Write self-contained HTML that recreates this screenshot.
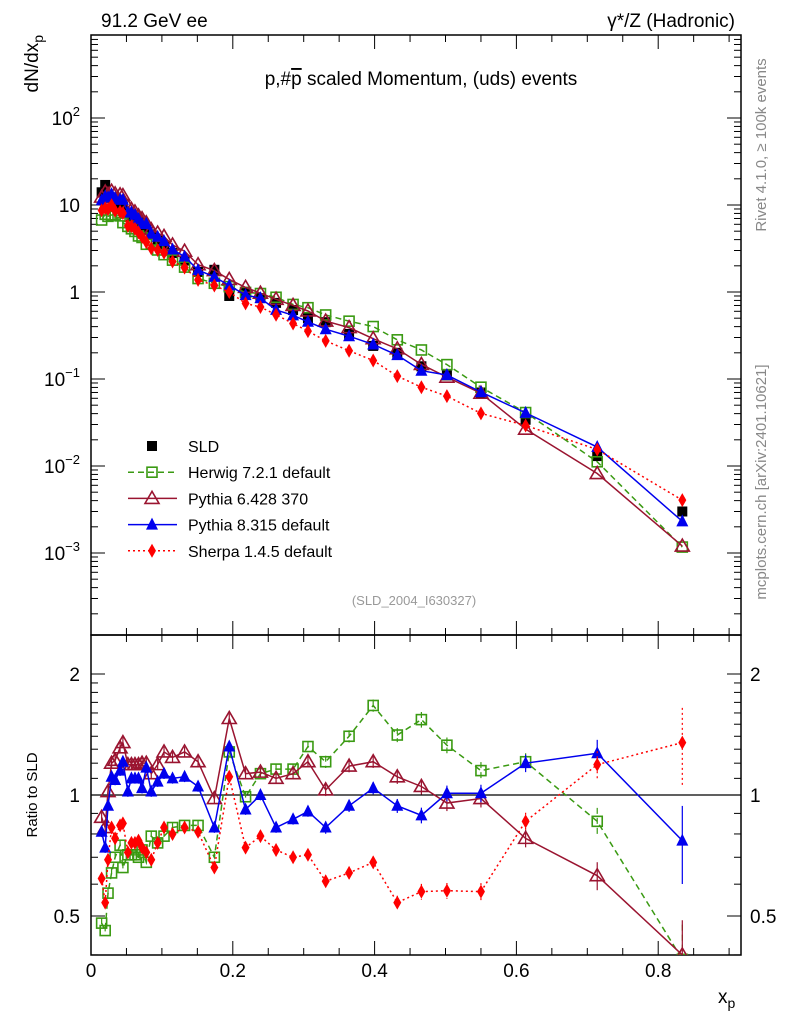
<!DOCTYPE html>
<html><head><meta charset="utf-8"><style>
body{margin:0;background:#fff}
svg{display:block;font-family:"Liberation Sans",sans-serif}
</style></head><body>
<svg id="c" width="786" height="1024" xmlns="http://www.w3.org/2000/svg"><defs><clipPath id="rc"><rect x="91" y="635" width="650" height="320"/></clipPath><clipPath id="mc"><rect x="91" y="35" width="650" height="600"/></clipPath></defs></svg>
<script>
const xs=[.015,.020,.024,.029,.034,.041,.045,.052,.057,.062,.067,.072,.078,.085,.094,.103,.115,.132,.151,.174,.195,.218,.239,.261,.285,.306,.331,.364,.398,.432,.466,.502,.55,.613,.714,.834];
const sld=[14,17,13,12,11,10,9.5,8,7.5,7,6.3,5.8,5.2,4.6,4.0,3.4,2.8,2.3,1.7,1.8,0.9,1.0,0.85,0.75,0.62,0.5,0.45,0.33,0.24,0.2,0.14,0.11,0.07,0.034,0.013,0.003];
const rHerwig=[0.48,0.46,0.57,0.64,0.70,0.75,0.66,0.71,0.71,0.71,0.70,0.73,0.68,0.79,0.76,0.79,0.83,0.84,0.84,0.70,1.28,0.99,1.13,1.16,1.16,1.32,1.21,1.40,1.67,1.41,1.54,1.33,1.15,1.21,0.86,0.39];
const rPy6=[0.88,0.83,1.02,1.2,1.22,1.31,1.35,1.19,1.19,1.19,1.19,1.2,1.2,1.13,1.19,1.28,1.24,1.28,1.21,0.98,1.55,1.13,1.14,1.1,1.13,1.21,1.03,1.18,1.21,1.11,1.05,0.955,0.98,0.78,0.63,0.40];
const rPy8=[0.81,0.74,0.94,1.11,1.09,1.15,1.21,1.02,1.1,1.1,1.1,1.04,1.17,1.02,1.08,1.13,1.1,1.11,1.05,0.83,1.32,0.92,1.0,0.83,0.87,0.91,0.83,0.94,1.04,0.94,0.89,1.01,1.01,1.2,1.27,0.77];
const rSherpa=[0.62,0.54,0.69,0.83,0.78,0.84,0.85,0.72,0.76,0.76,0.77,0.74,0.72,0.69,0.76,0.83,0.8,0.83,0.81,0.66,1.11,0.74,0.79,0.73,0.70,0.71,0.61,0.64,0.68,0.54,0.575,0.578,0.575,0.86,1.19,1.35];
const errRel=[.03,.03,.03,.03,.03,.03,.03,.03,.03,.03,.03,.03,.03,.03,.03,.03,.03,.03,.03,.03,.03,.03,.03,.03,.03,.03,.035,.035,.035,.04,.045,.045,.05,.05,.08,.22];
const yTicksMain=[[2,'10','2'],[1,'10',''],[0,'1',''],[-1,'10','−1'],[-2,'10','−2'],[-3,'10','−3']];
const xTicks=[0,0.2,0.4,0.6,0.8];

const svg=document.getElementById('c');
const NS='http://www.w3.org/2000/svg';
function el(t,a,p){const e=document.createElementNS(NS,t);for(const k in a)e.setAttribute(k,a[k]);(p||svg).appendChild(e);return e;}
const L=91,R=741,T=35,M=635,B=955;
const X=v=>L+709*v;
const Ym=v=>292-87*Math.log10(v);
const Yr=r=>795-121*Math.log2(r);

let f1=el('rect',{x:L,y:T,width:R-L,height:M-T,fill:'none',stroke:'#000','stroke-width':1.5});

let f2=el('rect',{x:L,y:M,width:R-L,height:B-M,fill:'none',stroke:'#000','stroke-width':1.5});


for(let v=0;v<=0.92;v+=0.05){const maj=Math.abs(v/0.2-Math.round(v/0.2))<1e-6;const len=maj?14:7;
 for(const [y0,d] of [[B,-1],[M,-1],[M,1],[T,1]]){el('line',{x1:X(v),x2:X(v),y1:y0,y2:y0+d*len,stroke:'#000'});}}
xTicks.forEach(v=>{const t=el('text',{x:X(v),y:977,'font-size':19,'text-anchor':'middle'});t.textContent=String(v);
 });
for(let d=-4;d<=2;d++)for(let m=1;m<=9;m++){const v=m*Math.pow(10,d);const y=Ym(v);if(y<T||y>M)continue;const len=m==1?14:7;
 el('line',{x1:L,x2:L+len,y1:y,y2:y,stroke:'#000'});el('line',{x1:R,x2:R-len,y1:y,y2:y,stroke:'#000'});}
yTicksMain.forEach(([d,s,e])=>{const t=el('text',{x:80,y:Ym(Math.pow(10,d))+7,'font-size':19,'text-anchor':'end'});
 t.innerHTML=s+(e?'<tspan font-size="13" dy="-9">'+e+'</tspan>':'');
 });
[0.4,0.5,0.6,0.7,0.8,0.9,1,1.1,1.2,1.3,1.4,1.5,1.6,1.7,1.8,1.9,2,2.5].forEach(r=>{const y=Yr(r);if(y<M||y>B)return;const len=(r==0.5||r==1||r==2)?14:7;
 el('line',{x1:L,x2:L+len,y1:y,y2:y,stroke:'#000'});el('line',{x1:R,x2:R-len,y1:y,y2:y,stroke:'#000'});});
[[2,'2'],[1,'1'],[0.5,'0.5']].forEach(([r,s])=>{let t=el('text',{x:80,y:Yr(r)+7,'font-size':19,'text-anchor':'end'});t.textContent=s;
 
 t=el('text',{x:750,y:Yr(r)+7,'font-size':19});t.textContent=s;
 });
el('line',{x1:L,x2:R,y1:Yr(1),y2:Yr(1),stroke:'#000','stroke-width':1.2});

function marker(g,type,x,y,col){
 if(type=='sq')el('rect',{x:x-5,y:y-5,width:10,height:10,fill:'#000'},g);
 else if(type=='osq')el('rect',{x:x-5,y:y-5,width:10,height:10,fill:'none',stroke:col,'stroke-width':1.6},g);
 else if(type=='otri')el('polygon',{points:`${x},${y-7} ${x-7},${y+5} ${x+7},${y+5}`,fill:'none',stroke:col,'stroke-width':1.6},g);
 else if(type=='tri')el('polygon',{points:`${x},${y-7} ${x-6},${y+5} ${x+6},${y+5}`,fill:col},g);
 else if(type=='dia')el('polygon',{points:`${x},${y-7} ${x-4},${y} ${x},${y+7} ${x+4},${y}`,fill:col},g);
}
const series=[
 {n:'herwig',r:rHerwig,c:'#3a9a12',m:'osq',d:'6,4'},
 {n:'pythia6',r:rPy6,c:'#9a1430',m:'otri',d:''},
 {n:'pythia8',r:rPy8,c:'#0000ee',m:'tri',d:''},
 {n:'sherpa',r:rSherpa,c:'#ff0000',m:'dia',d:'2,3'}];
const gs=el('g',{'clip-path':'url(#mc)'});
xs.forEach((x,i)=>marker(gs,'sq',X(x),Ym(sld[i])));
series.forEach(s=>{
 const g=el('g',{'clip-path':'url(#mc)'});
 const pts=xs.map((x,i)=>X(x)+','+Ym(sld[i]*s.r[i])).join(' ');
 el('polyline',{points:pts,fill:'none',stroke:s.c,'stroke-width':1.5,'stroke-dasharray':s.d},g);
 xs.forEach((x,i)=>marker(g,s.m,X(x),Ym(sld[i]*s.r[i]),s.c));
 const g2=el('g',{'clip-path':'url(#rc)'});
 const pts2=xs.map((x,i)=>X(x)+','+Yr(s.r[i])).join(' ');
 el('polyline',{points:pts2,fill:'none',stroke:s.c,'stroke-width':1.5,'stroke-dasharray':s.d},g2);
 xs.forEach((x,i)=>{const r=s.r[i],e=errRel[i];
  el('line',{x1:X(x),x2:X(x),y1:Yr(r*(1+e)),y2:Yr(r*(1-e)),stroke:s.c,'stroke-width':1.2,'stroke-dasharray':s.d},g2);
  marker(g2,s.m,X(x),Yr(r),s.c);});
});
const leg=[['SLD','sq','#000',''],['Herwig 7.2.1 default','osq','#3a9a12','6,4'],['Pythia 6.428 370','otri','#9a1430',''],['Pythia 8.315 default','tri','#0000ee',''],['Sherpa 1.4.5 default','dia','#ff0000','2,3']];
leg.forEach((l,i)=>{const y=446+i*26.2;const g=el('g',{});
 if(i>0)el('line',{x1:128,x2:177,y1:y,y2:y,stroke:l[2],'stroke-width':1.5,'stroke-dasharray':l[3]},g);
 marker(g,l[1],152,y,l[2]);const t=el('text',{x:188,y:y+6,'font-size':16},g);t.textContent=l[0];});
function txt(x,y,s,a,name,extra){const t=el('text',Object.assign({x:x,y:y,'text-anchor':a||'start'},extra||{}));t.textContent=s;return t;}
txt(101,27,'91.2 GeV ee','start','energy-label',{'font-size':19});
txt(735,27,'γ*/Z (Hadronic)','end','process-label',{'font-size':19});
const tt=txt(421,85,'','middle','plot-title',{'font-size':19});tt.innerHTML='p,#<tspan text-decoration="overline">p</tspan> scaled Momentum, (uds) events';
txt(414,605,'(SLD_2004_I630327)','middle','analysis-id',{'font-size':13,fill:'#999'});
const yl=txt(0,0,'','end','y-axis-title',{'font-size':19,transform:'translate(38,35) rotate(-90)'});yl.innerHTML='dN/dx<tspan font-size="14" dy="5">p</tspan>';
txt(0,0,'Ratio to SLD','middle','ratio-axis-title',{'font-size':15,transform:'translate(37,795) rotate(-90)'});
const xl=txt(718,1003,'','start','x-axis-title',{'font-size':19});xl.innerHTML='x<tspan font-size="14" dy="5">p</tspan>';
txt(0,0,'Rivet 4.1.0, ≥ 100k events','middle','rivet-label',{'font-size':15,fill:'#888',transform:'translate(766,145) rotate(-90)'});
txt(0,0,'mcplots.cern.ch [arXiv:2401.10621]','middle','mcplots-label',{'font-size':15,fill:'#888',transform:'translate(766,482) rotate(-90)'});
</script>
</body></html>
